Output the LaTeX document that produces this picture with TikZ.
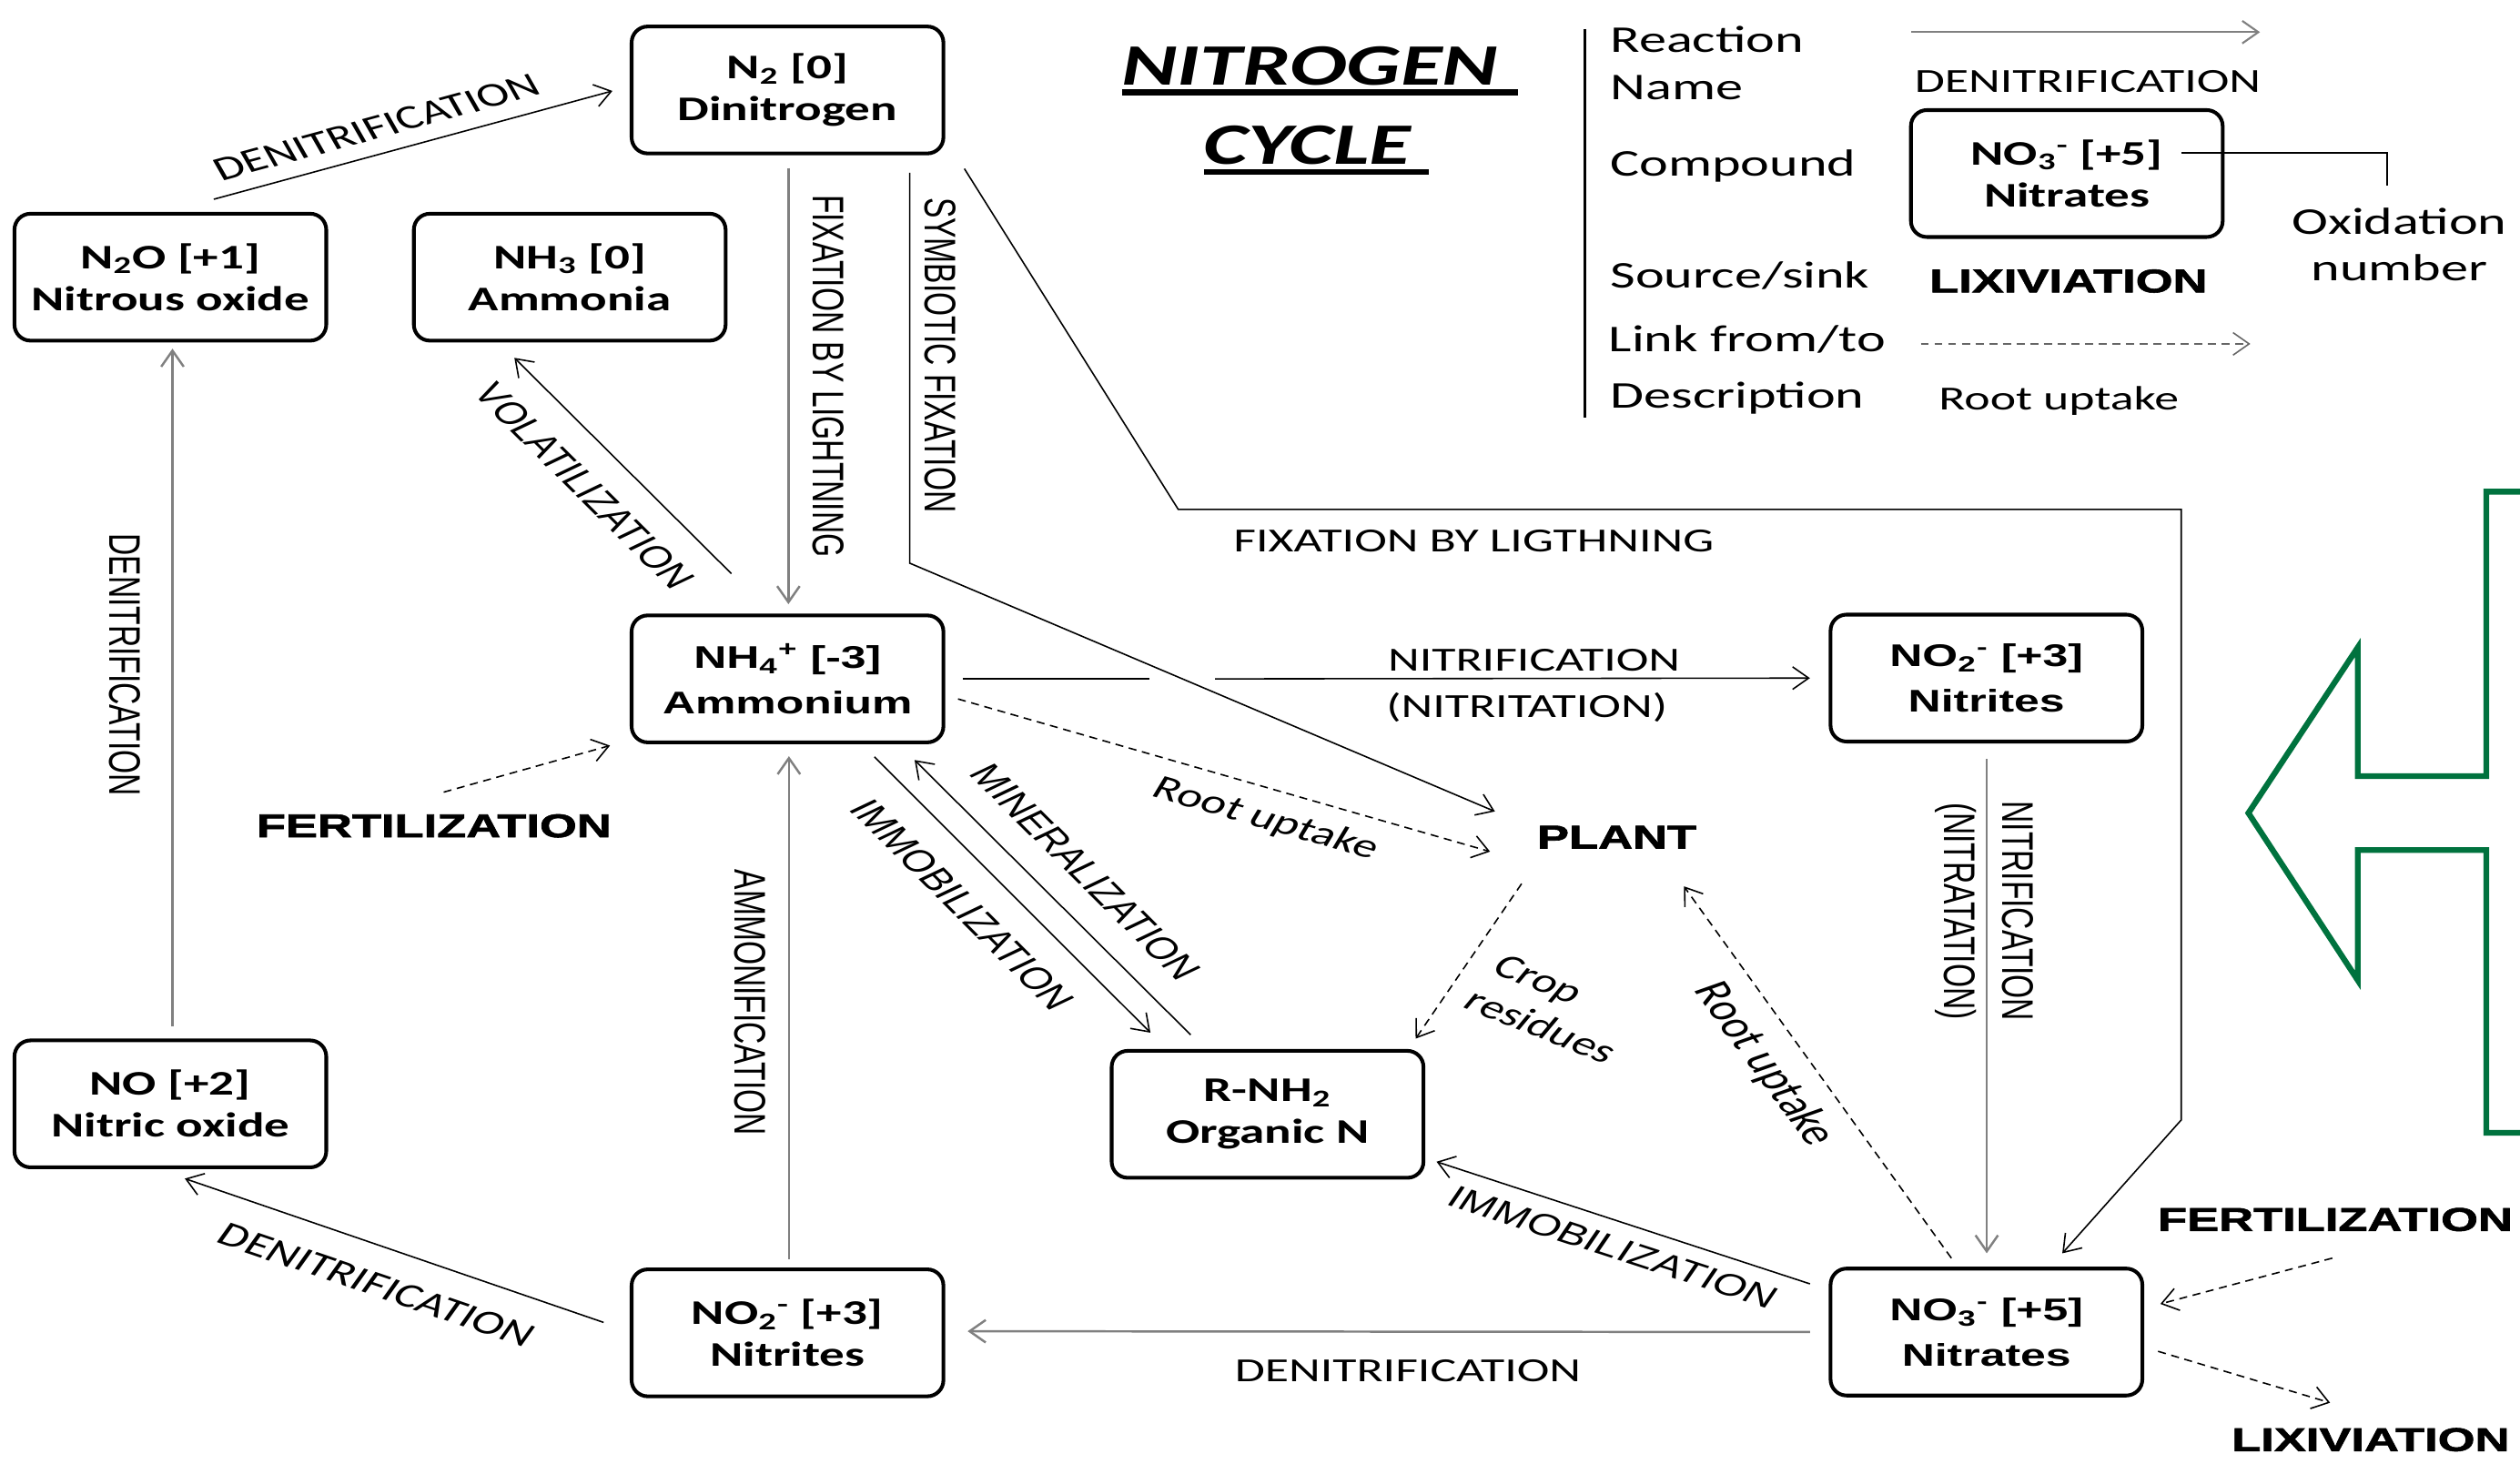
\documentclass[tikz,border=0pt]{standalone}
\usepackage{fontspec}
\setmainfont{Carlito}
\newfontfamily\arialf{Liberation Sans}
\usetikzlibrary{arrows.meta,calc}
\definecolor{arrowgreen}{RGB}{0,114,62}
\newcommand\sbs[1]{\textsubscript{#1}}
\newcommand\sps[1]{\textsuperscript{#1}}
\newcommand\fcbox{\bfseries\fontsize{21.5}{26}\selectfont}
\newcommand\fabox{\arialf\bfseries\fontsize{19.5}{28}\selectfont}
\newcommand\flab{\fontsize{21}{25}\selectfont}
\newcommand\flabb{\fontsize{22.5}{27}\selectfont}
\newcommand\falab{\arialf\fontsize{19}{23}\selectfont}
\newcommand\fleg{\fontsize{23.5}{29}\selectfont}
\newcommand\fheavy{\arialf\bfseries\addfontfeatures{FakeBold=1.5}\fontsize{20.5}{24}\selectfont}
\newcommand\ftitle{\bfseries\itshape\fontsize{36.5}{40}\selectfont}
\begin{document}
\begin{tikzpicture}[x=0.68966pt, y=-1pt, xscale=1.45,
  every node/.style={transform shape, inner sep=0pt, outer sep=0pt},
  cbox/.style={draw, line width=2.3pt, rounded corners=10pt, minimum width=133.8pt, minimum height=79pt, align=center, font=\fcbox},
  abox/.style={cbox, font=\fabox},
  ln/.style={line width=0.9pt, -{Straight Barb[length=10pt,width=14pt]}},
  gln/.style={ln, draw=black!50, line width=1.4pt},
  dln/.style={ln, dash pattern=on 5pt off 3.5pt},
  lab/.style={font=\flab},
  alab/.style={font=\falab},
  heavy/.style={font=\fheavy},
  leg/.style={font=\fleg, anchor=base west}
]
\useasboundingbox (0,0) rectangle (1568,911);

% ---------- boxes ----------
\node[cbox] (n2)   at (490,56)      {N\sbs{2} [0]\\Dinitrogen};
\node[cbox] (n2o)  at (106,172.5)   {N\sbs{2}O [+1]\\Nitrous oxide};
\node[cbox] (nh3)  at (354.5,172.5) {NH\sbs{3} [0]\\Ammonia};
\node[abox] (nh4)  at (490,422.5)   {NH\sbs{4}\sps{+} [-3]\\Ammonium};
\node[abox] (no2r) at (1236,422)    {NO\sbs{2}\sps{-} [+3]\\Nitrites};
\node[cbox] (rnh2) at (788.7,693.5) {R-NH\sbs{2}\\Organic N};
\node[cbox] (no)   at (106,687)     {NO [+2]\\Nitric oxide};
\node[cbox] (no2b) at (490,829.5)   {NO\sbs{2}\sps{-} [+3]\\Nitrites};
\node[abox] (no3)  at (1236,829)    {NO\sbs{3}\sps{-} [+5]\\Nitrates};
\node[cbox] (lgbox) at (1286,108)   {NO\sbs{3}\sps{-} [+5]\\Nitrates};

% ---------- sources / sinks ----------
\node[heavy] (plant) at (1006,521) {PLANT};
\node[heavy] (fertL) at (270,514)  {FERTILIZATION};
\node[heavy] (fertR) at (1453,759) {FERTILIZATION};
\node[heavy] (lixR)  at (1475,896) {LIXIVIATION};

% ---------- connector labels ----------
\node[lab, rotate=21.5]   (l1)  at (234.3,79.3)  {DENITRIFICATION};
\node[alab, rotate=-90]   (l2)  at (515.5,234)   {FIXATION BY LIGHTNING};
\node[alab, rotate=-90]   (l3)  at (585,221)     {SYMBIOTIC FIXATION};
\node[alab, rotate=-55.2] (l4)  at (363.6,302.4) {VOLATILIZATION};
\node[alab, rotate=-90]   (l5)  at (77.5,413.7)  {DENITRIFICATION};
\node[lab, rotate=-26.3]  (l6)  at (234.4,799.8) {DENITRIFICATION};
\node[alab, rotate=-90]   (l7)  at (467,624)     {AMMONIFICATION};
\node[alab, rotate=-55.4] (l8)  at (598.8,563)   {IMMOBILIZATION};
\node[alab, rotate=-55.3] (l9)  at (675.5,542.8) {MINERALIZATION};
\node[lab]                (l10) at (954.5,411)   {NITRIFICATION};
\node[lab]                (l11) at (950,440)     {(NITRITATION)};
\node[lab]                (l12) at (917,336.5)   {FIXATION BY LIGTHNING};
\node[lab, rotate=-22.6]  (l13) at (787.7,510)   {Root uptake};
\node[lab, rotate=-30, align=left] (l14) at (968,628) {Crop\\residues};
\node[font=\flabb, rotate=-63]  (l15) at (1097.6,662.5) {Root uptake};
\node[alab, rotate=-90]   (l16) at (1255.5,567)  {NITRIFICATION};
\node[alab, rotate=-90]   (l17) at (1217,567)    {(NITRATATION)};
\node[alab, rotate=-25.3] (l18) at (1003.8,776.2){IMMOBILIZATION};
\node[lab]                (l19) at (876,853)     {DENITRIFICATION};

% ---------- title ----------
\node[font=\ftitle, anchor=base west] (t1) at (698,53)  {NITROGEN};
\node[font=\ftitle, anchor=base west] (t2) at (749,102) {CYCLE};
\draw[line width=3.5pt] ($(t1.base west)+(0,4.5)$) -- ($(t1.base east)+(12,4.5)$);
\draw[line width=3.5pt] ($(t2.base west)+(0,5)$) -- ($(t2.base east)+(11,5)$);

% ---------- legend ----------
\draw[line width=1.6pt] (986,18) -- (986,260);
\node[leg] (lg1) at (1002,32.5)  {Reaction};
\node[leg] (lg2) at (1002,62)    {Name};
\node[leg] (lg3) at (1002,109.5) {Compound};
\node[leg] (lg4) at (1002,179.4) {Source/sink};
\node[leg] (lg5) at (1001,219)   {Link from/to};
\node[leg] (lg6) at (1002,254)   {Description};
\node[lab, anchor=base]   (lg7) at (1299,57.5) {DENITRIFICATION};
\node[heavy, anchor=base] (lg8) at (1287,182)  {LIXIVIATION};
\node[lab, anchor=base]   (lg9) at (1281,255)  {Root uptake};
\node[font=\fleg, align=center] (oxid) at (1493,152) {Oxidation\\number};
\coordinate (la1) at (1189,20);  \coordinate (la2) at (1406,20);
\draw[gln, line width=1.2pt] (la1) -- (la2);
\coordinate (ld1) at (1195,214); \coordinate (ld2) at (1400,214);
\draw[dln, draw=black!60] (ld1) -- (ld2);
\draw[line width=1.2pt] ($(lgbox.center)+(71,-12.7)$) -- ($(lgbox.center)+(199,-12.7)$) -- ($(lgbox.center)+(199,7.6)$);

% ---------- connectors ----------
\draw[ln]  ($(n2o.north)+(27,-9)$) -- ($(n2.west)+(-12,0.6)$);
\draw[gln] ($(n2.south)+(0.5,9)$) -- ($(nh4.north)+(0.5,-7)$);
\draw[ln]  ($(n2.south)+(76,12)$) -- ($(n2.south)+(76,255)$) -- ($(plant.center)+(-76,-16)$);
\coordinate (lbend) at (733,317);
\draw[ln]  ($(n2.south)+(110,9.5)$) -- (lbend) -| ($(no3.north east)+(24,-92.5)$) -- ($(no3.north)+(47,-9.5)$);
\draw[ln]  ($(nh4.north)+(-35,-26)$) -- ($(nh3.south)+(-34.5,10.7)$);
\draw[gln] ($(no.north)+(1.3,-9)$) -- ($(n2o.south)+(1.3,5)$);
\draw[ln]  ($(no2b.west)+(-17.5,-6.5)$) -- ($(no.south)+(9,7)$);
\draw[gln] ($(no2b.north)+(0.8,-6.3)$) -- ($(nh4.south)+(0.8,8.6)$);
\draw[ln]  ($(nh4.south)+(54,9)$) -- ($(rnh2.north)+(-73,-11.3)$);
\draw[ln]  ($(rnh2.north)+(-48,-10)$) -- ($(nh4.south)+(79,11)$);
\draw[ln, -] ($(nh4.east)+(12,0)$) -- ($(nh4.east)+(128,0)$);
\draw[ln]  ($(nh4.east)+(169,0)$) -- ($(no2r.west)+(-13,0)$);
\draw[dln] ($(nh4.east)+(9,12.5)$) -- ($(plant.center)+(-79,9)$);
\draw[dln] ($(plant.center)+(-59.4,29)$) -- ($(rnh2.north east)+(-5,-7.6)$);
\draw[dln] ($(no3.north)+(-22,-6.5)$) -- ($(plant.center)+(41.6,30.6)$);
\draw[gln] ($(no2r.south)+(0,11)$) -- ($(no3.north)+(0,-9.5)$);
\draw[ln]  ($(no3.west)+(-13,-30)$) -- ($(rnh2.east)+(8,29.5)$);
\draw[gln] ($(no3.west)+(-13,0)$) -- ($(no2b.east)+(15,-1)$);
\draw[dln] ($(fertR.center)+(-2,24)$) -- ($(no3.east)+(11,-17.5)$);
\draw[dln] ($(no3.east)+(9.6,12)$) -- ($(lixR.center)+(-25.4,-23)$);
\draw[dln] ($(fertL.center)+(6,-21)$) -- ($(nh4.south west)+(-13.5,2)$);

% ---------- big green arrow ----------
\draw[arrowgreen, line width=3.6pt, line join=miter]
  (1580,306) -- (1547,306) -- (1547,483) -- (1467,483) -- (1467,403) -- (1399,506)
  -- (1467,610) -- (1467,529) -- (1547,529) -- (1547,705) -- (1580,705);
\end{tikzpicture}
\end{document}
